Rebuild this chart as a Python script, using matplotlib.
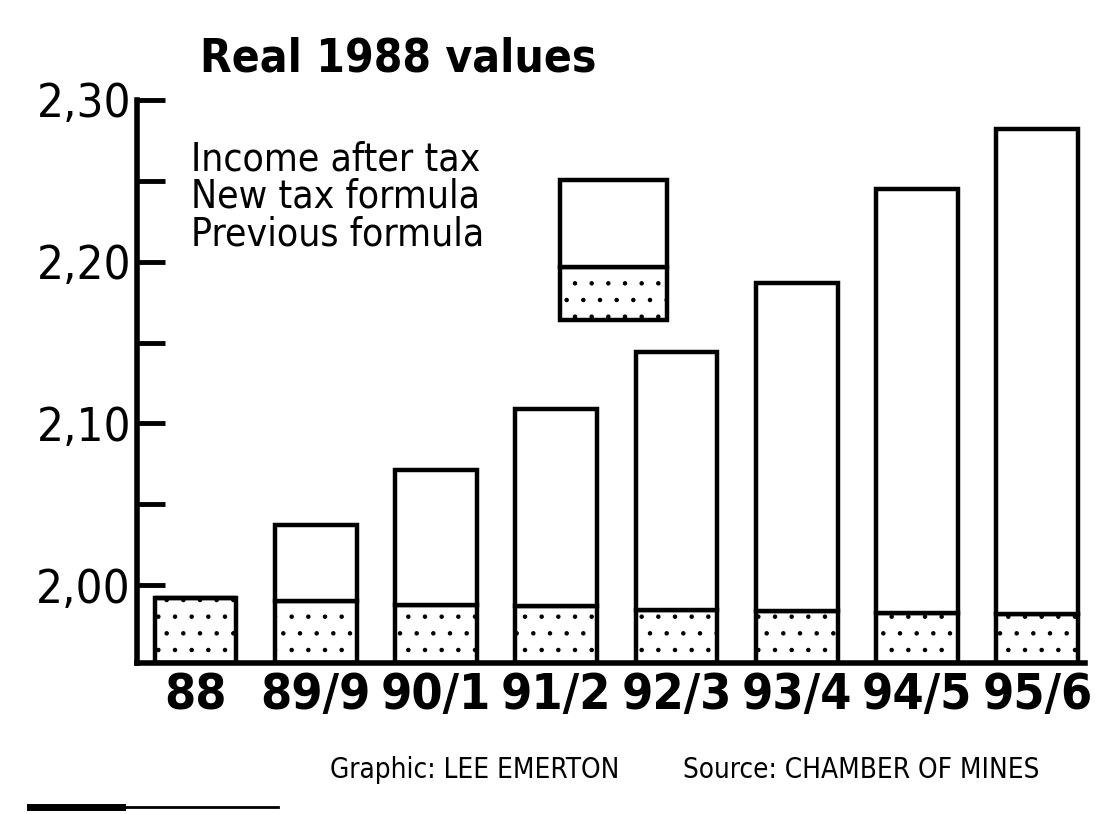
import matplotlib.pyplot as plt
from matplotlib.patches import Rectangle
from matplotlib.ticker import FixedLocator

years = ['88', '89/9', '90/1', '91/2', '92/3', '93/4', '94/5', '95/6']
new_formula = [1.992, 2.037, 2.071, 2.109, 2.144, 2.187, 2.245, 2.282]
prev_formula = [1.992, 1.990, 1.988, 1.987, 1.985, 1.984, 1.983, 1.982]
yticks = [2.00, 2.10, 2.20, 2.30]
ytick_labels = ['2,00', '2,10', '2,20', '2,30']
legend_labels = ['Income after tax', 'New tax formula', 'Previous formula']
ybase = 1.952

plt.rcParams['font.family'] = ['DejaVu Sans']
plt.rcParams['font.stretch'] = 'condensed'
plt.rcParams['font.weight'] = 'bold'
plt.rcParams['hatch.linewidth'] = 0.8

fig = plt.figure(figsize=(11.11, 8.14), dpi=100)
ax = fig.add_axes([0.123, 0.1855, 0.854, 0.692])

x = range(len(years))
w = 0.68
lw = 3.2
ax.bar(x, [p - ybase for p in prev_formula], width=w, bottom=ybase,
       color='white', edgecolor='black', linewidth=lw, hatch='.')
ax.bar(x, [n - p for n, p in zip(new_formula, prev_formula)], width=w,
       bottom=prev_formula, color='white', edgecolor='black', linewidth=lw)

ax.set_xlim(-0.49, 7.4)
ax.set_ylim(ybase, 2.30)
ax.set_xticks(list(x))
ax.set_xticklabels(years, fontsize=36, fontweight='bold')
ax.set_yticks(yticks)
ax.set_yticklabels(ytick_labels, fontsize=34, fontweight='normal')
ax.yaxis.set_minor_locator(FixedLocator([2.05, 2.15, 2.25]))
ax.tick_params(axis='y', which='both', direction='in', length=20, width=3.5, pad=4)
ax.tick_params(axis='x', length=0, pad=6)
for s in ['top', 'right']:
    ax.spines[s].set_visible(False)
for s in ['left', 'bottom']:
    ax.spines[s].set_linewidth(4)

# legend
for lab, yy in zip(legend_labels, [0.893, 0.828, 0.760]):
    ax.text(0.057, yy, lab, transform=ax.transAxes, fontsize=28,
            va='center', ha='left', fontweight='normal')
ax.add_patch(Rectangle((0.446, 0.609), 0.113, 0.094, transform=ax.transAxes,
                       facecolor='white', edgecolor='black', linewidth=lw,
                       hatch='.', zorder=3))
ax.add_patch(Rectangle((0.446, 0.703), 0.113, 0.155, transform=ax.transAxes,
                       facecolor='white', edgecolor='black', linewidth=lw,
                       zorder=3))

fig.text(0.18, 0.928, 'Real 1988 values', fontsize=33, fontweight='bold', va='center')
fig.text(0.297, 0.054, 'Graphic: LEE EMERTON', fontsize=20, va='center', fontweight='normal')
fig.text(0.615, 0.054, 'Source: CHAMBER OF MINES', fontsize=20, va='center', fontweight='normal')
fig.add_artist(plt.Line2D([0.027, 0.11], [0.008, 0.008], color='black', linewidth=5))
fig.add_artist(plt.Line2D([0.11, 0.25], [0.008, 0.008], color='black', linewidth=2))

fig.savefig('out.png', dpi=100)
